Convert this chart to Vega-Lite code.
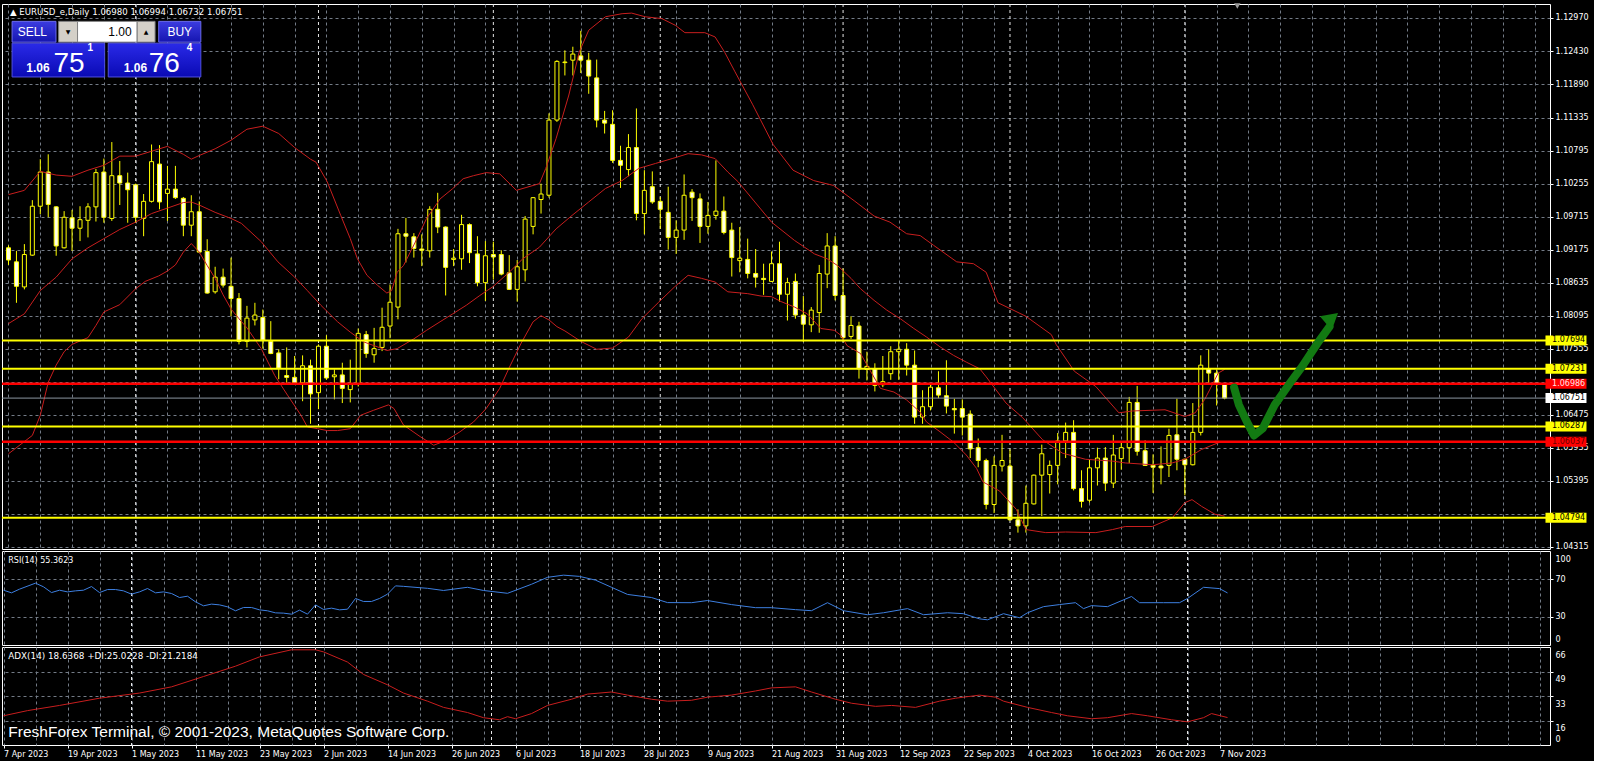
{
"$schema":"https://vega.github.io/schema/vega-lite/v6.json",
"background":"#000000",
"padding":{"left":0,"top":2,"right":5,"bottom":2},
"spacing":2,
"bounds":"flush",
"config":{
 "view":{"stroke":"#FFFFFF","strokeWidth":1},
 "axis":{"labelFont":"DejaVu Sans","labelFontSize":8,"labelColor":"#FFFFFF","domain":false,"gridColor":"#737B86","gridDash":[3,3],"gridWidth":1,"tickColor":"#FFFFFF","tickWidth":1,"labelOverlap":false,"tickCount":300},
 "text":{"font":"DejaVu Sans","fontSize":8,"color":"#FFFFFF"}
},
"datasets":{
 "months":[{"i":16},{"i":39},{"i":61},{"i":82},{"i":105},{"i":126},{"i":148}],
 "levels":[{"p":1.07694,"kind":"level"},{"p":1.07231,"kind":"level"},{"p":1.06287,"kind":"level"},{"p":1.04794,"kind":"level"},{"p":1.06986,"kind":"zone"},{"p":1.06037,"kind":"zone"},{"p":1.06751,"kind":"bid"}],
 "ohlc":[
{"i":0,"o":1.0921,"h":1.0925,"l":1.0893,"c":1.0901},{"i":1,"o":1.0898,"h":1.0916,"l":1.0831,"c":1.0858},{"i":2,"o":1.0857,"h":1.0927,"l":1.0853,"c":1.091},{"i":3,"o":1.0909,"h":1.0999,"l":1.0908,"c":1.0989},{"i":4,"o":1.0989,"h":1.1066,"l":1.0976,"c":1.1045},{"i":5,"o":1.1045,"h":1.1074,"l":1.0971,"c":1.0992},{"i":6,"o":1.0988,"h":1.0989,"l":1.0908,"c":1.0924},{"i":7,"o":1.0921,"h":1.0981,"l":1.092,"c":1.0971},{"i":8,"o":1.097,"h":1.0983,"l":1.0916,"c":1.0953},{"i":9,"o":1.0953,"h":1.0989,"l":1.0932,"c":1.0967},
{"i":10,"o":1.0966,"h":1.0994,"l":1.0938,"c":1.0988},{"i":11,"o":1.0988,"h":1.105,"l":1.0964,"c":1.1044},{"i":12,"o":1.1045,"h":1.1067,"l":1.0962,"c":1.0971},{"i":13,"o":1.0969,"h":1.1094,"l":1.0965,"c":1.1039},{"i":14,"o":1.1039,"h":1.1063,"l":1.0991,"c":1.1027},{"i":15,"o":1.1027,"h":1.1044,"l":1.0962,"c":1.1016},{"i":16,"o":1.1024,"h":1.1026,"l":1.0962,"c":1.0971},{"i":17,"o":1.0969,"h":1.1009,"l":1.094,"c":1.0997},{"i":18,"o":1.0997,"h":1.109,"l":1.0995,"c":1.1062},{"i":19,"o":1.1058,"h":1.1089,"l":1.0984,"c":1.0996},
{"i":20,"o":1.101,"h":1.1055,"l":1.0965,"c":1.1017},{"i":21,"o":1.1017,"h":1.1055,"l":1.1001,"c":1.1003},{"i":22,"o":1.1002,"h":1.1004,"l":1.094,"c":1.0958},{"i":23,"o":1.0958,"h":1.1007,"l":1.094,"c":1.098},{"i":24,"o":1.098,"h":1.0997,"l":1.0914,"c":1.0914},{"i":25,"o":1.0915,"h":1.0935,"l":1.0846,"c":1.0847},{"i":26,"o":1.0849,"h":1.089,"l":1.0846,"c":1.0873},{"i":27,"o":1.0873,"h":1.0887,"l":1.0856,"c":1.086},{"i":28,"o":1.0858,"h":1.0905,"l":1.0809,"c":1.0838},{"i":29,"o":1.0838,"h":1.0847,"l":1.0763,"c":1.0768},
{"i":30,"o":1.0768,"h":1.0826,"l":1.0758,"c":1.0806},{"i":31,"o":1.0803,"h":1.0831,"l":1.0794,"c":1.0811},{"i":32,"o":1.0807,"h":1.082,"l":1.0756,"c":1.077},{"i":33,"o":1.0768,"h":1.0801,"l":1.0747,"c":1.0748},{"i":34,"o":1.0749,"h":1.0755,"l":1.0706,"c":1.0724},{"i":35,"o":1.0712,"h":1.0758,"l":1.07,"c":1.0709},{"i":36,"o":1.0709,"h":1.0744,"l":1.0697,"c":1.07},{"i":37,"o":1.07,"h":1.0745,"l":1.067,"c":1.0728},{"i":38,"o":1.0728,"h":1.0738,"l":1.0633,"c":1.0682},{"i":39,"o":1.0684,"h":1.0763,"l":1.0657,"c":1.076},
{"i":40,"o":1.076,"h":1.0778,"l":1.0705,"c":1.0708},{"i":41,"o":1.071,"h":1.0722,"l":1.0673,"c":1.0713},{"i":42,"o":1.0713,"h":1.0733,"l":1.0667,"c":1.0691},{"i":43,"o":1.0689,"h":1.0738,"l":1.0668,"c":1.0698},{"i":44,"o":1.0698,"h":1.0789,"l":1.0694,"c":1.0781},{"i":45,"o":1.0779,"h":1.0785,"l":1.0741,"c":1.0748},{"i":46,"o":1.0746,"h":1.079,"l":1.0733,"c":1.0756},{"i":47,"o":1.0758,"h":1.0823,"l":1.0752,"c":1.0791},{"i":48,"o":1.0793,"h":1.0861,"l":1.0773,"c":1.0832},{"i":49,"o":1.0824,"h":1.0952,"l":1.0804,"c":1.0944},
{"i":50,"o":1.0944,"h":1.097,"l":1.0897,"c":1.094},{"i":51,"o":1.0939,"h":1.0945,"l":1.0905,"c":1.092},{"i":52,"o":1.0919,"h":1.0943,"l":1.0891,"c":1.0917},{"i":53,"o":1.0916,"h":1.0989,"l":1.0905,"c":1.0984},{"i":54,"o":1.0984,"h":1.1011,"l":1.0945,"c":1.0955},{"i":55,"o":1.0955,"h":1.0956,"l":1.0843,"c":1.0889},{"i":56,"o":1.0902,"h":1.0919,"l":1.0891,"c":1.0904},{"i":57,"o":1.0903,"h":1.0975,"l":1.0885,"c":1.0959},{"i":58,"o":1.0959,"h":1.0961,"l":1.0896,"c":1.0913},{"i":59,"o":1.0911,"h":1.094,"l":1.0858,"c":1.0864},
{"i":60,"o":1.0864,"h":1.0932,"l":1.0834,"c":1.0908},{"i":61,"o":1.091,"h":1.0931,"l":1.0869,"c":1.0906},{"i":62,"o":1.091,"h":1.0917,"l":1.0876,"c":1.0878},{"i":63,"o":1.088,"h":1.0909,"l":1.0852,"c":1.0853},{"i":64,"o":1.0853,"h":1.0901,"l":1.0833,"c":1.089},{"i":65,"o":1.0885,"h":1.0973,"l":1.0866,"c":1.0968},{"i":66,"o":1.0956,"h":1.1004,"l":1.0943,"c":1.1003},{"i":67,"o":1.1,"h":1.1026,"l":1.0977,"c":1.1009},{"i":68,"o":1.1007,"h":1.1141,"l":1.1003,"c":1.113},{"i":69,"o":1.113,"h":1.1228,"l":1.1127,"c":1.1226},
{"i":70,"o":1.1224,"h":1.1244,"l":1.1203,"c":1.1225},{"i":71,"o":1.1228,"h":1.125,"l":1.1203,"c":1.1238},{"i":72,"o":1.1235,"h":1.1276,"l":1.1207,"c":1.1228},{"i":73,"o":1.1228,"h":1.124,"l":1.1173,"c":1.1202},{"i":74,"o":1.1199,"h":1.1229,"l":1.1118,"c":1.113},{"i":75,"o":1.113,"h":1.1145,"l":1.1108,"c":1.1125},{"i":76,"o":1.1123,"h":1.1146,"l":1.106,"c":1.1064},{"i":77,"o":1.1064,"h":1.1088,"l":1.1019,"c":1.1056},{"i":78,"o":1.1049,"h":1.1107,"l":1.1038,"c":1.1085},{"i":79,"o":1.1085,"h":1.1149,"l":1.0966,"c":1.0977},
{"i":80,"o":1.0977,"h":1.1048,"l":1.0943,"c":1.1015},{"i":81,"o":1.1021,"h":1.1046,"l":1.0993,"c":1.0996},{"i":82,"o":1.0997,"h":1.1004,"l":1.0952,"c":1.0984},{"i":83,"o":1.0979,"h":1.1021,"l":1.0918,"c":1.0938},{"i":84,"o":1.0938,"h":1.0966,"l":1.0911,"c":1.095},{"i":85,"o":1.095,"h":1.1041,"l":1.0934,"c":1.1007},{"i":86,"o":1.1012,"h":1.1017,"l":1.0965,"c":1.1003},{"i":87,"o":1.1001,"h":1.101,"l":1.0929,"c":1.0956},{"i":88,"o":1.0956,"h":1.0996,"l":1.0944,"c":1.0974},{"i":89,"o":1.0974,"h":1.1064,"l":1.0967,"c":1.0981},
{"i":90,"o":1.0981,"h":1.1005,"l":1.0943,"c":1.0946},{"i":91,"o":1.095,"h":1.0962,"l":1.0874,"c":1.0905},{"i":92,"o":1.09,"h":1.0955,"l":1.0881,"c":1.0904},{"i":93,"o":1.0902,"h":1.0936,"l":1.0871,"c":1.0879},{"i":94,"o":1.0879,"h":1.0919,"l":1.0856,"c":1.0873},{"i":95,"o":1.0871,"h":1.0895,"l":1.0844,"c":1.0869},{"i":96,"o":1.0866,"h":1.0915,"l":1.0865,"c":1.0895},{"i":97,"o":1.0895,"h":1.0931,"l":1.0833,"c":1.0845},{"i":98,"o":1.0845,"h":1.0872,"l":1.0802,"c":1.0864},{"i":99,"o":1.0866,"h":1.0879,"l":1.0805,"c":1.0811},
{"i":100,"o":1.0811,"h":1.0842,"l":1.0767,"c":1.0796},{"i":101,"o":1.0795,"h":1.0824,"l":1.0783,"c":1.0819},{"i":102,"o":1.0815,"h":1.0893,"l":1.0782,"c":1.0879},{"i":103,"o":1.0878,"h":1.0945,"l":1.0855,"c":1.0924},{"i":104,"o":1.0924,"h":1.094,"l":1.0835,"c":1.0843},{"i":105,"o":1.0843,"h":1.0887,"l":1.0767,"c":1.0774},{"i":106,"o":1.0776,"h":1.0809,"l":1.0772,"c":1.0794},{"i":107,"o":1.0793,"h":1.08,"l":1.0707,"c":1.0723},{"i":108,"o":1.0722,"h":1.0751,"l":1.0704,"c":1.0727},{"i":109,"o":1.0723,"h":1.0732,"l":1.0686,"c":1.0696},
{"i":110,"o":1.0697,"h":1.0744,"l":1.0693,"c":1.0702},{"i":111,"o":1.0715,"h":1.076,"l":1.0705,"c":1.0751},{"i":112,"o":1.0751,"h":1.077,"l":1.0705,"c":1.0755},{"i":113,"o":1.0755,"h":1.0765,"l":1.0712,"c":1.0729},{"i":114,"o":1.0729,"h":1.0753,"l":1.0633,"c":1.0644},{"i":115,"o":1.0644,"h":1.0688,"l":1.0633,"c":1.0661},{"i":116,"o":1.0661,"h":1.0699,"l":1.0655,"c":1.0693},{"i":117,"o":1.0692,"h":1.0719,"l":1.0675,"c":1.068},{"i":118,"o":1.0679,"h":1.0737,"l":1.065,"c":1.0662},{"i":119,"o":1.0658,"h":1.0674,"l":1.0617,"c":1.0656},
{"i":120,"o":1.0658,"h":1.0673,"l":1.0614,"c":1.0644},{"i":121,"o":1.0649,"h":1.0655,"l":1.0577,"c":1.0592},{"i":122,"o":1.0594,"h":1.0609,"l":1.0562,"c":1.0573},{"i":123,"o":1.0573,"h":1.0576,"l":1.0493,"c":1.0501},{"i":124,"o":1.0501,"h":1.058,"l":1.0487,"c":1.0565},{"i":125,"o":1.0564,"h":1.0615,"l":1.0555,"c":1.0573},{"i":126,"o":1.0564,"h":1.0591,"l":1.0475,"c":1.0476},{"i":127,"o":1.0476,"h":1.0493,"l":1.0455,"c":1.0466},{"i":128,"o":1.0466,"h":1.0532,"l":1.0455,"c":1.0503},{"i":129,"o":1.0502,"h":1.055,"l":1.0501,"c":1.0549},
{"i":130,"o":1.0549,"h":1.0599,"l":1.0482,"c":1.0584},{"i":131,"o":1.055,"h":1.0573,"l":1.0519,"c":1.0565},{"i":132,"o":1.0565,"h":1.0618,"l":1.0534,"c":1.0605},{"i":133,"o":1.0605,"h":1.0635,"l":1.0577,"c":1.0619},{"i":134,"o":1.0619,"h":1.0639,"l":1.0524,"c":1.0527},{"i":135,"o":1.0527,"h":1.0557,"l":1.0496,"c":1.0506},{"i":136,"o":1.0508,"h":1.0575,"l":1.0504,"c":1.0561},{"i":137,"o":1.0561,"h":1.0594,"l":1.0532,"c":1.0577},{"i":138,"o":1.0577,"h":1.0595,"l":1.0523,"c":1.0536},{"i":139,"o":1.0536,"h":1.0615,"l":1.0528,"c":1.0582},
{"i":140,"o":1.0576,"h":1.0602,"l":1.0558,"c":1.0594},{"i":141,"o":1.0594,"h":1.0677,"l":1.0569,"c":1.0668},{"i":142,"o":1.0668,"h":1.0695,"l":1.0581,"c":1.0588},{"i":143,"o":1.0589,"h":1.0606,"l":1.0564,"c":1.0565},{"i":144,"o":1.0565,"h":1.0583,"l":1.052,"c":1.0562},{"i":145,"o":1.0564,"h":1.0596,"l":1.0534,"c":1.0561},{"i":146,"o":1.0565,"h":1.0625,"l":1.0546,"c":1.0614},{"i":147,"o":1.0615,"h":1.0674,"l":1.0557,"c":1.0575},{"i":148,"o":1.0575,"h":1.0576,"l":1.0516,"c":1.0566},{"i":149,"o":1.0566,"h":1.0667,"l":1.0565,"c":1.0619},
{"i":150,"o":1.0619,"h":1.0745,"l":1.0614,"c":1.0729},{"i":151,"o":1.0723,"h":1.0755,"l":1.07,"c":1.0716},{"i":152,"o":1.0716,"h":1.0722,"l":1.0663,"c":1.0698},{"i":153,"o":1.0698,"h":1.06994,"l":1.06732,"c":1.06751}
 ],
 "bb":[
{"b":"u","i":0,"v":1.1008},{"b":"u","i":2,"v":1.1015},{"b":"u","i":4,"v":1.1046},{"b":"u","i":6,"v":1.104},{"b":"u","i":8,"v":1.1038},{"b":"u","i":10,"v":1.1048},{"b":"u","i":12,"v":1.1056},{"b":"u","i":14,"v":1.1071},{"b":"u","i":16,"v":1.1071},{"b":"u","i":18,"v":1.1079},{"b":"u","i":20,"v":1.1087},{"b":"u","i":22,"v":1.1074},{"b":"u","i":23,"v":1.1066},{"b":"u","i":24,"v":1.1072},{"b":"u","i":26,"v":1.1083},{"b":"u","i":28,"v":1.1097},{"b":"u","i":30,"v":1.1115},{"b":"u","i":32,"v":1.112},{"b":"u","i":34,"v":1.1108},{"b":"u","i":36,"v":1.1085},{"b":"u","i":38,"v":1.1066},{"b":"u","i":38.7,"v":1.1061},{"b":"u","i":40.1,"v":1.1029},{"b":"u","i":41.8,"v":1.0974},{"b":"u","i":43,"v":1.0936},{"b":"u","i":43.9,"v":1.0903},{"b":"u","i":45.1,"v":1.0876},{"b":"u","i":46.4,"v":1.086},{"b":"u","i":47.6,"v":1.0847},{"b":"u","i":48.2,"v":1.0851},{"b":"u","i":48.9,"v":1.0881},{"b":"u","i":49.7,"v":1.0892},{"b":"u","i":51.4,"v":1.0936},{"b":"u","i":52.6,"v":1.0969},{"b":"u","i":54.3,"v":1.1001},{"b":"u","i":55.9,"v":1.1018},{"b":"u","i":57.2,"v":1.1034},{"b":"u","i":58.5,"v":1.1039},{"b":"u","i":60.1,"v":1.1044},{"b":"u","i":61.8,"v":1.1042},{"b":"u","i":63.9,"v":1.1015},{"b":"u","i":66.8,"v":1.1026},{"b":"u","i":67.6,"v":1.1051},{"b":"u","i":68.9,"v":1.11},{"b":"u","i":70.5,"v":1.1171},{"b":"u","i":71.8,"v":1.1241},{"b":"u","i":73,"v":1.1277},{"b":"u","i":75.1,"v":1.1299},{"b":"u","i":77.2,"v":1.1304},{"b":"u","i":78.4,"v":1.1305},{"b":"u","i":80.1,"v":1.1299},{"b":"u","i":82.2,"v":1.1296},{"b":"u","i":83.9,"v":1.1285},{"b":"u","i":85.1,"v":1.1273},{"b":"u","i":87.6,"v":1.1273},{"b":"u","i":88.9,"v":1.1266},{"b":"u","i":90.1,"v":1.1241},{"b":"u","i":91.4,"v":1.1209},{"b":"u","i":93.6,"v":1.1156},{"b":"u","i":96.2,"v":1.109},{"b":"u","i":98.7,"v":1.1048},{"b":"u","i":101.3,"v":1.1031},{"b":"u","i":103.8,"v":1.1023},{"b":"u","i":106.4,"v":1.0998},{"b":"u","i":108.9,"v":1.0973},{"b":"u","i":110.9,"v":1.0963},{"b":"u","i":113,"v":1.0944},{"b":"u","i":114.7,"v":1.0941},{"b":"u","i":116.4,"v":1.0925},{"b":"u","i":119.3,"v":1.0898},{"b":"u","i":121.4,"v":1.0895},{"b":"u","i":123,"v":1.0881},{"b":"u","i":124.5,"v":1.0831},{"b":"u","i":128,"v":1.0809},{"b":"u","i":131.2,"v":1.0779},{"b":"u","i":131.8,"v":1.0763},{"b":"u","i":134.1,"v":1.0719},{"b":"u","i":136.8,"v":1.0694},{"b":"u","i":139.7,"v":1.0651},{"b":"u","i":141.4,"v":1.0654},{"b":"u","i":145.5,"v":1.0656},{"b":"u","i":148,"v":1.0645},{"b":"u","i":149.3,"v":1.0651},{"b":"u","i":150.5,"v":1.0673},{"b":"u","i":152.2,"v":1.0716},{"b":"u","i":153,"v":1.0722},
{"b":"m","i":0,"v":1.0797},{"b":"m","i":2,"v":1.0813},{"b":"m","i":4,"v":1.0851},{"b":"m","i":6,"v":1.0873},{"b":"m","i":8,"v":1.0903},{"b":"m","i":10,"v":1.0921},{"b":"m","i":12,"v":1.0936},{"b":"m","i":14,"v":1.0951},{"b":"m","i":16,"v":1.0963},{"b":"m","i":18,"v":1.0977},{"b":"m","i":20,"v":1.0986},{"b":"m","i":22,"v":1.0995},{"b":"m","i":23,"v":1.0996},{"b":"m","i":24,"v":1.0991},{"b":"m","i":26,"v":1.0979},{"b":"m","i":28,"v":1.0969},{"b":"m","i":29.3,"v":1.0961},{"b":"m","i":31.8,"v":1.0931},{"b":"m","i":33.9,"v":1.0898},{"b":"m","i":36,"v":1.0873},{"b":"m","i":37.6,"v":1.0851},{"b":"m","i":39.3,"v":1.0827},{"b":"m","i":41.4,"v":1.08},{"b":"m","i":43,"v":1.0783},{"b":"m","i":44.7,"v":1.0767},{"b":"m","i":46.4,"v":1.0759},{"b":"m","i":47.6,"v":1.0753},{"b":"m","i":48.9,"v":1.0756},{"b":"m","i":51,"v":1.0772},{"b":"m","i":52.6,"v":1.0786},{"b":"m","i":54.3,"v":1.08},{"b":"m","i":55.9,"v":1.0813},{"b":"m","i":57.6,"v":1.0827},{"b":"m","i":59.3,"v":1.0843},{"b":"m","i":60.9,"v":1.0857},{"b":"m","i":63,"v":1.0881},{"b":"m","i":64.7,"v":1.0903},{"b":"m","i":66.8,"v":1.0922},{"b":"m","i":68.9,"v":1.0952},{"b":"m","i":70.9,"v":1.0974},{"b":"m","i":73,"v":1.0996},{"b":"m","i":75.1,"v":1.1018},{"b":"m","i":77.2,"v":1.1031},{"b":"m","i":79.3,"v":1.1051},{"b":"m","i":81.4,"v":1.1059},{"b":"m","i":83.5,"v":1.1067},{"b":"m","i":85.5,"v":1.1075},{"b":"m","i":87.2,"v":1.1073},{"b":"m","i":88.9,"v":1.1067},{"b":"m","i":90.5,"v":1.1045},{"b":"m","i":91.8,"v":1.1029},{"b":"m","i":96,"v":1.0963},{"b":"m","i":98.9,"v":1.0933},{"b":"m","i":101.4,"v":1.0911},{"b":"m","i":103,"v":1.0903},{"b":"m","i":104.3,"v":1.0892},{"b":"m","i":106,"v":1.0871},{"b":"m","i":107.2,"v":1.0854},{"b":"m","i":108.9,"v":1.0835},{"b":"m","i":110.5,"v":1.0819},{"b":"m","i":112.2,"v":1.0805},{"b":"m","i":113.9,"v":1.0789},{"b":"m","i":115.5,"v":1.0775},{"b":"m","i":117.2,"v":1.0759},{"b":"m","i":118.9,"v":1.0745},{"b":"m","i":120.5,"v":1.0734},{"b":"m","i":122.2,"v":1.0723},{"b":"m","i":123,"v":1.071},{"b":"m","i":125.5,"v":1.0667},{"b":"m","i":127.6,"v":1.0643},{"b":"m","i":130.1,"v":1.0607},{"b":"m","i":132.6,"v":1.0585},{"b":"m","i":135.5,"v":1.0575},{"b":"m","i":138.9,"v":1.0572},{"b":"m","i":140.5,"v":1.0569},{"b":"m","i":143.9,"v":1.0566},{"b":"m","i":146.4,"v":1.0569},{"b":"m","i":148,"v":1.0575},{"b":"m","i":150.1,"v":1.0591},{"b":"m","i":152.2,"v":1.0602},{"b":"m","i":153,"v":1.0604},
{"b":"l","i":0,"v":1.0584},{"b":"l","i":3,"v":1.0614},{"b":"l","i":4,"v":1.0647},{"b":"l","i":5,"v":1.0701},{"b":"l","i":6,"v":1.0729},{"b":"l","i":7,"v":1.0751},{"b":"l","i":8,"v":1.0763},{"b":"l","i":10,"v":1.0774},{"b":"l","i":11,"v":1.0794},{"b":"l","i":12,"v":1.0816},{"b":"l","i":14,"v":1.0828},{"b":"l","i":16,"v":1.0854},{"b":"l","i":17.2,"v":1.0866},{"b":"l","i":18.9,"v":1.0875},{"b":"l","i":20,"v":1.0883},{"b":"l","i":21,"v":1.0893},{"b":"l","i":22,"v":1.0914},{"b":"l","i":23,"v":1.0928},{"b":"l","i":24,"v":1.0914},{"b":"l","i":25,"v":1.0892},{"b":"l","i":26,"v":1.0871},{"b":"l","i":27,"v":1.0844},{"b":"l","i":28,"v":1.0821},{"b":"l","i":29,"v":1.0805},{"b":"l","i":30,"v":1.079},{"b":"l","i":31.8,"v":1.0756},{"b":"l","i":33.5,"v":1.0712},{"b":"l","i":35.1,"v":1.068},{"b":"l","i":36.8,"v":1.0647},{"b":"l","i":37.6,"v":1.0628},{"b":"l","i":38.9,"v":1.0625},{"b":"l","i":40.1,"v":1.0622},{"b":"l","i":41.4,"v":1.0622},{"b":"l","i":43,"v":1.0625},{"b":"l","i":44.3,"v":1.0647},{"b":"l","i":45.9,"v":1.0655},{"b":"l","i":47.8,"v":1.0664},{"b":"l","i":48.5,"v":1.0658},{"b":"l","i":49.7,"v":1.0631},{"b":"l","i":51.8,"v":1.0612},{"b":"l","i":53.5,"v":1.0598},{"b":"l","i":55.1,"v":1.0606},{"b":"l","i":56.8,"v":1.062},{"b":"l","i":58.5,"v":1.0636},{"b":"l","i":60.1,"v":1.0658},{"b":"l","i":61.8,"v":1.0691},{"b":"l","i":63,"v":1.0725},{"b":"l","i":64.5,"v":1.0765},{"b":"l","i":66,"v":1.08},{"b":"l","i":67,"v":1.081},{"b":"l","i":68,"v":1.0803},{"b":"l","i":69,"v":1.0792},{"b":"l","i":70,"v":1.0785},{"b":"l","i":72,"v":1.0768},{"b":"l","i":74,"v":1.0755},{"b":"l","i":76,"v":1.0757},{"b":"l","i":78,"v":1.0775},{"b":"l","i":79.7,"v":1.0805},{"b":"l","i":81.8,"v":1.0832},{"b":"l","i":83.8,"v":1.0857},{"b":"l","i":85.5,"v":1.0876},{"b":"l","i":87.2,"v":1.0871},{"b":"l","i":88.9,"v":1.0865},{"b":"l","i":90.5,"v":1.0849},{"b":"l","i":93,"v":1.0846},{"b":"l","i":94.7,"v":1.0842},{"b":"l","i":96,"v":1.0841},{"b":"l","i":97.2,"v":1.0833},{"b":"l","i":98.9,"v":1.0824},{"b":"l","i":100.5,"v":1.0813},{"b":"l","i":102.2,"v":1.0789},{"b":"l","i":103.9,"v":1.0786},{"b":"l","i":104.7,"v":1.0778},{"b":"l","i":105.5,"v":1.0761},{"b":"l","i":107.2,"v":1.0748},{"b":"l","i":108.5,"v":1.0718},{"b":"l","i":109.7,"v":1.0691},{"b":"l","i":111.4,"v":1.0685},{"b":"l","i":113,"v":1.0672},{"b":"l","i":114.7,"v":1.0652},{"b":"l","i":115.5,"v":1.0636},{"b":"l","i":117.2,"v":1.062},{"b":"l","i":118.9,"v":1.0603},{"b":"l","i":120.5,"v":1.0582},{"b":"l","i":121.8,"v":1.056},{"b":"l","i":122.6,"v":1.0538},{"b":"l","i":124.7,"v":1.0523},{"b":"l","i":126.8,"v":1.0493},{"b":"l","i":128,"v":1.046},{"b":"l","i":130.5,"v":1.0455},{"b":"l","i":133,"v":1.0456},{"b":"l","i":136.8,"v":1.0455},{"b":"l","i":138.9,"v":1.046},{"b":"l","i":140.5,"v":1.0465},{"b":"l","i":143.9,"v":1.0465},{"b":"l","i":146.4,"v":1.0479},{"b":"l","i":148,"v":1.0504},{"b":"l","i":148.9,"v":1.0509},{"b":"l","i":150.1,"v":1.0498},{"b":"l","i":151.8,"v":1.0485},{"b":"l","i":153,"v":1.0482}
 ],
 "rsi":[{"i":0,"v":58.3},{"i":1,"v":55.5},{"i":2,"v":59.4},{"i":4,"v":65.8},{"i":5,"v":61.9},{"i":6,"v":55.8},{"i":7,"v":58.3},{"i":8,"v":56.5},{"i":9,"v":57.6},{"i":10,"v":58.3},{"i":11,"v":62.2},{"i":12,"v":55.8},{"i":13,"v":59},{"i":14,"v":59},{"i":15,"v":57.6},{"i":16,"v":54.1},{"i":17,"v":56.5},{"i":18,"v":60.1},{"i":19,"v":55.5},{"i":20,"v":56.5},{"i":21,"v":54.8},{"i":22,"v":50.5},{"i":23,"v":51.9},{"i":24,"v":45.9},{"i":25,"v":41.7},{"i":26,"v":43.5},{"i":27,"v":42.7},{"i":28,"v":40.6},{"i":29,"v":36.4},{"i":30,"v":39.9},{"i":31,"v":39.9},{"i":32,"v":37.4},{"i":33,"v":36.4},{"i":34,"v":34.2},{"i":35,"v":33.9},{"i":36,"v":32.8},{"i":37,"v":37.1},{"i":38,"v":32.8},{"i":39,"v":42.7},{"i":40,"v":37.8},{"i":41,"v":39.2},{"i":42,"v":37.4},{"i":43,"v":38.1},{"i":44,"v":49.5},{"i":45,"v":46.3},{"i":46,"v":46.3},{"i":47,"v":49.5},{"i":48,"v":54.1},{"i":49,"v":62.9},{"i":50,"v":62.4},{"i":53,"v":60.3},{"i":55,"v":58},{"i":58,"v":61.4},{"i":60,"v":58},{"i":63,"v":55},{"i":66,"v":64.6},{"i":68,"v":72},{"i":70,"v":74.3},{"i":72,"v":73},{"i":74,"v":69},{"i":76,"v":61.4},{"i":78,"v":53.8},{"i":81,"v":50.5},{"i":83,"v":45.1},{"i":86,"v":45},{"i":88,"v":47.3},{"i":91,"v":43},{"i":94,"v":39.7},{"i":96,"v":39.7},{"i":99,"v":37.6},{"i":101,"v":36.5},{"i":103,"v":45},{"i":105,"v":36.5},{"i":108,"v":32.2},{"i":110,"v":34.3},{"i":113,"v":38.7},{"i":115,"v":32.2},{"i":118,"v":34.3},{"i":120,"v":33.3},{"i":122,"v":27.8},{"i":123,"v":26.8},{"i":125,"v":33.3},{"i":127,"v":29},{"i":128,"v":34.3},{"i":130,"v":40.8},{"i":132,"v":43},{"i":134,"v":45},{"i":135,"v":38.7},{"i":136,"v":41.9},{"i":138,"v":40.8},{"i":141,"v":51.6},{"i":142,"v":45},{"i":145,"v":45},{"i":147,"v":45},{"i":148,"v":49.5},{"i":150,"v":61.4},{"i":152,"v":60},{"i":153,"v":55.4}],
 "adx":[{"i":0,"v":19.8},{"i":3,"v":23.3},{"i":7,"v":26.8},{"i":12,"v":31.7},{"i":17,"v":35.2},{"i":21,"v":39.4},{"i":25,"v":46.4},{"i":29,"v":53.4},{"i":32,"v":59.7},{"i":36,"v":64.5},{"i":39,"v":64.5},{"i":40,"v":63.1},{"i":43,"v":56.2},{"i":45,"v":47.8},{"i":48,"v":40.8},{"i":50,"v":35.2},{"i":53,"v":29.7},{"i":55,"v":25.5},{"i":58,"v":22},{"i":60,"v":18.5},{"i":62,"v":17.1},{"i":63,"v":19.2},{"i":64,"v":17.8},{"i":66,"v":21.3},{"i":68,"v":26.8},{"i":71,"v":31},{"i":73,"v":34.5},{"i":76,"v":35.9},{"i":78,"v":33.8},{"i":81,"v":31},{"i":83,"v":29.7},{"i":86,"v":30.3},{"i":88,"v":32.4},{"i":91,"v":33.8},{"i":94,"v":36.6},{"i":96,"v":38.7},{"i":99,"v":39.4},{"i":101,"v":35.9},{"i":104,"v":31},{"i":106,"v":28.3},{"i":109,"v":26.2},{"i":111,"v":26.8},{"i":114,"v":25.5},{"i":117,"v":29.7},{"i":119,"v":31.7},{"i":122,"v":33.8},{"i":124,"v":32.4},{"i":125,"v":29.7},{"i":128,"v":25.5},{"i":131,"v":22},{"i":133,"v":19.8},{"i":136,"v":17.8},{"i":138,"v":18.5},{"i":141,"v":21.3},{"i":143,"v":19.8},{"i":146,"v":17.1},{"i":148,"v":15.7},{"i":150,"v":18.5},{"i":151,"v":21.3},{"i":153,"v":18.6}],
 "check":[{"n":0,"i":154.2,"p":1.06923},{"n":1,"i":154.8,"p":1.0664},{"n":2,"i":155.7,"p":1.0639},{"n":3,"i":156.7,"p":1.06139},{"n":4,"i":157.8,"p":1.06255},{"n":5,"i":159.3,"p":1.0664},{"n":6,"i":161.1,"p":1.06974},{"n":7,"i":162.7,"p":1.07257},{"n":8,"i":164.65,"p":1.07641},{"n":9,"i":166.2,"p":1.0792}]
},
"vconcat":[
{
 "width":1548,"height":545,
 "layer":[
  {"data":{"name":"months"},"mark":{"type":"rule","color":"#E6E6E6","strokeDash":[3,3],"strokeWidth":1},"encoding":{"x":{"field":"i","type":"quantitative"}}},
  {"data":{"name":"ohlc"},"mark":{"type":"rule","color":"#FFFF00","strokeWidth":1},
   "encoding":{
    "x":{"field":"i","type":"quantitative","scale":{"domain":[-0.1875,193.31],"nice":false,"zero":false},
     "axis":{"title":null,"values":[0,4,8,12,16,20,24,28,32,36,40,44,48,52,56,60,64,68,72,76,80,84,88,92,96,100,104,108,112,116,120,124,128,132,136,140,144,148,152,156,160,164,168,172,176,180,184,188,192],"tickCount":300,"grid":true,"labels":false,"ticks":false}},
    "y":{"field":"l","type":"quantitative","scale":{"domain":[1.04282,1.13199],"nice":false,"zero":false},
     "axis":{"title":null,"orient":"right","values":[1.04315,1.04855,1.05395,1.05935,1.06475,1.07015,1.07555,1.08095,1.08635,1.09175,1.09715,1.10255,1.10795,1.11335,1.1189,1.1243,1.1297],"tickCount":300,
      "labelExpr":"(datum.value == 1.07015 || datum.value == 1.04855) ? '' : format(datum.value, '.5f')",
      "grid":true,"tickSize":3,"labelPadding":2,"labelOverlap":false}},
    "y2":{"field":"h"}}},
  {"data":{"name":"ohlc"},"mark":{"type":"bar","width":4,"stroke":"#FFFF00","strokeWidth":1},
   "encoding":{"x":{"field":"i","type":"quantitative"},"y":{"field":"o","type":"quantitative"},"y2":{"field":"c"},
    "fill":{"condition":{"test":"datum.o > datum.c","value":"#FFFFE6"},"value":"#000000"}}},
  {"data":{"name":"bb"},"mark":{"type":"line","color":"#C81E1E","strokeWidth":1},
   "encoding":{"x":{"field":"i","type":"quantitative"},"y":{"field":"v","type":"quantitative"},"detail":{"field":"b","type":"nominal"}}},
  {"data":{"name":"levels"},"transform":[{"filter":"datum.kind == 'bid'"}],"mark":{"type":"rule","color":"#8C96A0","strokeWidth":1},"encoding":{"y":{"field":"p","type":"quantitative"}}},
  {"data":{"name":"levels"},"transform":[{"filter":"datum.kind == 'level'"}],"mark":{"type":"rule","color":"#FFFF00","strokeWidth":2},"encoding":{"y":{"field":"p","type":"quantitative"}}},
  {"data":{"name":"levels"},"transform":[{"filter":"datum.kind == 'zone'"}],"mark":{"type":"rule","color":"#FF0000","strokeWidth":2.5},"encoding":{"y":{"field":"p","type":"quantitative"}}},
  {"data":{"name":"levels"},"mark":{"type":"tick","orient":"horizontal","size":41,"thickness":10,"opacity":1},
   "encoding":{"x":{"datum":195.95},"y":{"field":"p","type":"quantitative"},
    "color":{"field":"kind","type":"nominal","scale":{"domain":["level","zone","bid"],"range":["#FFFF00","#FF0000","#FFFFFF"]},"legend":null}}},
  {"data":{"name":"levels"},"mark":{"type":"text","align":"left","baseline":"middle","font":"DejaVu Sans","fontSize":8},
   "encoding":{"x":{"datum":194.2},"y":{"field":"p","type":"quantitative"},"text":{"field":"p","type":"quantitative","format":".5f"},
    "color":{"condition":[{"test":"datum.kind == 'zone' && datum.p > 1.065","value":"#FFE4E4"},{"test":"datum.kind == 'zone'","value":"#6A0000"}],"value":"#000000"}}},
  {"data":{"name":"check"},"mark":{"type":"line","color":"#127A12","strokeWidth":8,"strokeCap":"round","strokeJoin":"round"},
   "encoding":{"x":{"field":"i","type":"quantitative"},"y":{"field":"p","type":"quantitative"},"order":{"field":"n","type":"quantitative"}}},
  {"data":{"values":[{}]},"mark":{"type":"point","shape":"triangle-up","filled":true,"color":"#127A12","size":340,"angle":50,"opacity":1},
   "encoding":{"x":{"datum":166.5},"y":{"datum":1.0806}}},
  {"data":{"values":[{}]},"mark":{"type":"point","shape":"triangle-down","filled":true,"color":"#9A9A9A","size":40,"opacity":1},
   "encoding":{"x":{"datum":154.6},"y":{"datum":1.13166}}},
  {"data":{"values":[{}]},"mark":{"type":"text","align":"left","baseline":"middle","fontSize":8.6},
   "encoding":{"x":{"datum":0.19},"y":{"datum":1.13073},"text":{"value":"▲ EURUSD_e,Daily  1.06980 1.06994 1.06732 1.06751"}}},
  {"data":{"values":[{}]},"mark":{"type":"rect","stroke":"#6A6AEA","strokeWidth":1,"fill":{"gradient":"linear","x1":0,"y1":0,"x2":0,"y2":1,"stops":[{"offset":0,"color":"#3C3CE0"},{"offset":1,"color":"#1515B0"}]}},
   "encoding":{"x":{"datum":0.45},"x2":{"datum":5.975},"y":{"datum":1.12915},"y2":{"datum":1.12575}}},
  {"data":{"values":[{}]},"mark":{"type":"rect","stroke":"#6A6AEA","strokeWidth":1,"fill":{"gradient":"linear","x1":0,"y1":0,"x2":0,"y2":1,"stops":[{"offset":0,"color":"#3C3CE0"},{"offset":1,"color":"#1515B0"}]}},
   "encoding":{"x":{"datum":18.9},"x2":{"datum":24.2},"y":{"datum":1.12915},"y2":{"datum":1.12575}}},
  {"data":{"values":[{}]},"mark":{"type":"rect","stroke":"#808080","strokeWidth":1,"fill":"#D4D0C8"},
   "encoding":{"x":{"datum":6.31},"x2":{"datum":8.69},"y":{"datum":1.12915},"y2":{"datum":1.12575}}},
  {"data":{"values":[{}]},"mark":{"type":"rect","stroke":"#808080","strokeWidth":1,"fill":"#FFFFFF"},
   "encoding":{"x":{"datum":8.69},"x2":{"datum":16.19},"y":{"datum":1.12915},"y2":{"datum":1.12575}}},
  {"data":{"values":[{}]},"mark":{"type":"rect","stroke":"#808080","strokeWidth":1,"fill":"#D4D0C8"},
   "encoding":{"x":{"datum":16.19},"x2":{"datum":18.44},"y":{"datum":1.12915},"y2":{"datum":1.12575}}},
  {"data":{"values":[{}]},"mark":{"type":"rect","stroke":"#5050E0","strokeWidth":1,"fill":{"gradient":"linear","x1":0,"y1":0,"x2":0,"y2":1,"stops":[{"offset":0,"color":"#2A2AE8"},{"offset":1,"color":"#0A0AB4"}]}},
   "encoding":{"x":{"datum":0.45},"x2":{"datum":12.1},"y":{"datum":1.12558},"y2":{"datum":1.12005}}},
  {"data":{"values":[{}]},"mark":{"type":"rect","stroke":"#5050E0","strokeWidth":1,"fill":{"gradient":"linear","x1":0,"y1":0,"x2":0,"y2":1,"stops":[{"offset":0,"color":"#2A2AE8"},{"offset":1,"color":"#0A0AB4"}]}},
   "encoding":{"x":{"datum":12.55},"x2":{"datum":24.2},"y":{"datum":1.12558},"y2":{"datum":1.12005}}},
  {"data":{"values":[{"t":"SELL","i":3.0},{"t":"BUY","i":21.55}]},"mark":{"type":"text","align":"center","baseline":"middle","font":"Liberation Sans","fontSize":12,"color":"#FFFFFF"},
   "encoding":{"x":{"field":"i","type":"quantitative"},"y":{"datum":1.12742},"text":{"field":"t"}}},
  {"data":{"values":[{}]},"mark":{"type":"text","align":"right","baseline":"middle","font":"Liberation Sans","fontSize":12,"color":"#000000"},
   "encoding":{"x":{"datum":15.5},"y":{"datum":1.12742},"text":{"value":"1.00"}}},
  {"data":{"values":[{"t":"▼","i":7.5},{"t":"▲","i":17.3}]},"mark":{"type":"text","align":"center","baseline":"middle","font":"DejaVu Sans","fontSize":6,"color":"#000000"},
   "encoding":{"x":{"field":"i","type":"quantitative"},"y":{"datum":1.12742},"text":{"field":"t"}}},
  {"data":{"values":[{"t":"1.06","i":2.23},{"t":"1.06","i":14.5}]},"mark":{"type":"text","align":"left","baseline":"alphabetic","font":"Liberation Sans","fontSize":12,"fontWeight":"bold","color":"#FFFFFF"},
   "encoding":{"x":{"field":"i","type":"quantitative"},"y":{"datum":1.12085},"text":{"field":"t"}}},
  {"data":{"values":[{"t":"75","i":5.65},{"t":"76","i":17.65}]},"mark":{"type":"text","align":"left","baseline":"alphabetic","font":"Liberation Sans","fontSize":28,"color":"#FFFFFF"},
   "encoding":{"x":{"field":"i","type":"quantitative"},"y":{"datum":1.12085},"text":{"field":"t"}}},
  {"data":{"values":[{"t":"1","i":9.94},{"t":"4","i":22.44}]},"mark":{"type":"text","align":"left","baseline":"alphabetic","font":"Liberation Sans","fontSize":10,"fontWeight":"bold","color":"#FFFFFF"},
   "encoding":{"x":{"field":"i","type":"quantitative"},"y":{"datum":1.12424},"text":{"field":"t"}}}
 ]
},
{
 "width":1548,"height":94,
 "layer":[
  {"data":{"name":"months"},"mark":{"type":"rule","color":"#E6E6E6","strokeDash":[3,3],"strokeWidth":1},"encoding":{"x":{"field":"i","type":"quantitative"}}},
  {"data":{"name":"rsi"},"mark":{"type":"line","color":"#3D7FE0","strokeWidth":1},
   "encoding":{
    "x":{"field":"i","type":"quantitative","scale":{"domain":[-0.1875,193.31],"nice":false,"zero":false},
     "axis":{"title":null,"values":[0,4,8,12,16,20,24,28,32,36,40,44,48,52,56,60,64,68,72,76,80,84,88,92,96,100,104,108,112,116,120,124,128,132,136,140,144,148,152,156,160,164,168,172,176,180,184,188,192],"tickCount":300,"grid":true,"labels":false,"ticks":false}},
    "y":{"field":"v","type":"quantitative","scale":{"domain":[0,100],"nice":false,"zero":false},
     "axis":{"title":null,"orient":"right","values":[100,70,30,0],"tickCount":300,"format":"d","grid":true,"labelOverlap":false,
      "gridOpacity":{"condition":{"test":"datum.value == 70 || datum.value == 30","value":1},"value":0},
      "tickOpacity":{"condition":{"test":"datum.value == 70 || datum.value == 30","value":1},"value":0},
      "tickSize":3,"labelPadding":2,
      "labelOffset":{"condition":[{"test":"datum.value == 100","value":8},{"test":"datum.value == 0","value":-6}],"value":0}}}}},
  {"data":{"values":[{}]},"mark":{"type":"text","align":"left","baseline":"middle"},
   "encoding":{"x":{"datum":0.6},"y":{"datum":89.4},"text":{"value":"RSI(14) 55.3623"}}}
 ]
},
{
 "width":1548,"height":98,
 "layer":[
  {"data":{"name":"months"},"mark":{"type":"rule","color":"#E6E6E6","strokeDash":[3,3],"strokeWidth":1},"encoding":{"x":{"field":"i","type":"quantitative"}}},
  {"data":{"name":"adx"},"mark":{"type":"line","color":"#C81E1E","strokeWidth":1},
   "encoding":{
    "x":{"field":"i","type":"quantitative","scale":{"domain":[-0.1875,193.31],"nice":false,"zero":false},
     "axis":{"title":null,"values":[0,4,8,12,16,20,24,28,32,36,40,44,48,52,56,60,64,68,72,76,80,84,88,92,96,100,104,108,112,116,120,124,128,132,136,140,144,148,152,156,160,164,168,172,176,180,184,188,192],"tickCount":300,"grid":true,
      "labelExpr":"(datum.value % 8 == 0 && datum.value <= 152) ? ['7 Apr 2023','19 Apr 2023','1 May 2023','11 May 2023','23 May 2023','2 Jun 2023','14 Jun 2023','26 Jun 2023','6 Jul 2023','18 Jul 2023','28 Jul 2023','9 Aug 2023','21 Aug 2023','31 Aug 2023','12 Sep 2023','22 Sep 2023','4 Oct 2023','16 Oct 2023','26 Oct 2023','7 Nov 2023'][datum.value / 8] : ''",
      "labelAlign":"left","labelBaseline":"top","labelPadding":2,"labelFlush":false,"labelOverlap":false,"labelBound":false,
      "tickSize":3,"tickOpacity":{"condition":{"test":"datum.value % 8 == 0 && datum.value <= 152","value":1},"value":0}}},
    "y":{"field":"v","type":"quantitative","scale":{"domain":[0,66.4],"nice":false,"zero":false},
     "axis":{"title":null,"orient":"right","values":[66.4,49.8,33.2,16.6,0],"tickCount":300,"labelExpr":"floor(datum.value)","grid":true,"labelOverlap":false,
      "gridOpacity":{"condition":{"test":"datum.value > 1 && datum.value < 60","value":1},"value":0},
      "tickOpacity":{"condition":{"test":"datum.value > 1 && datum.value < 60","value":1},"value":0},
      "tickSize":3,"labelPadding":2,
      "labelOffset":{"condition":{"test":"datum.value == 0","value":-6},"value":8}}}}},
  {"data":{"values":[{}]},"mark":{"type":"text","align":"left","baseline":"middle","fontSize":8.8},
   "encoding":{"x":{"datum":0.6},"y":{"datum":60.3},"text":{"value":"ADX(14) 18.6368 +DI:25.0228 -DI:21.2184"}}},
  {"data":{"values":[{}]},"mark":{"type":"text","align":"left","baseline":"middle","font":"Liberation Sans","fontSize":15.5,"color":"#FFFFFF"},
   "encoding":{"x":{"datum":0.6},"y":{"datum":8.8},"text":{"value":"FreshForex Terminal, © 2001-2023, MetaQuotes Software Corp."}}}
 ]
}
]
}
